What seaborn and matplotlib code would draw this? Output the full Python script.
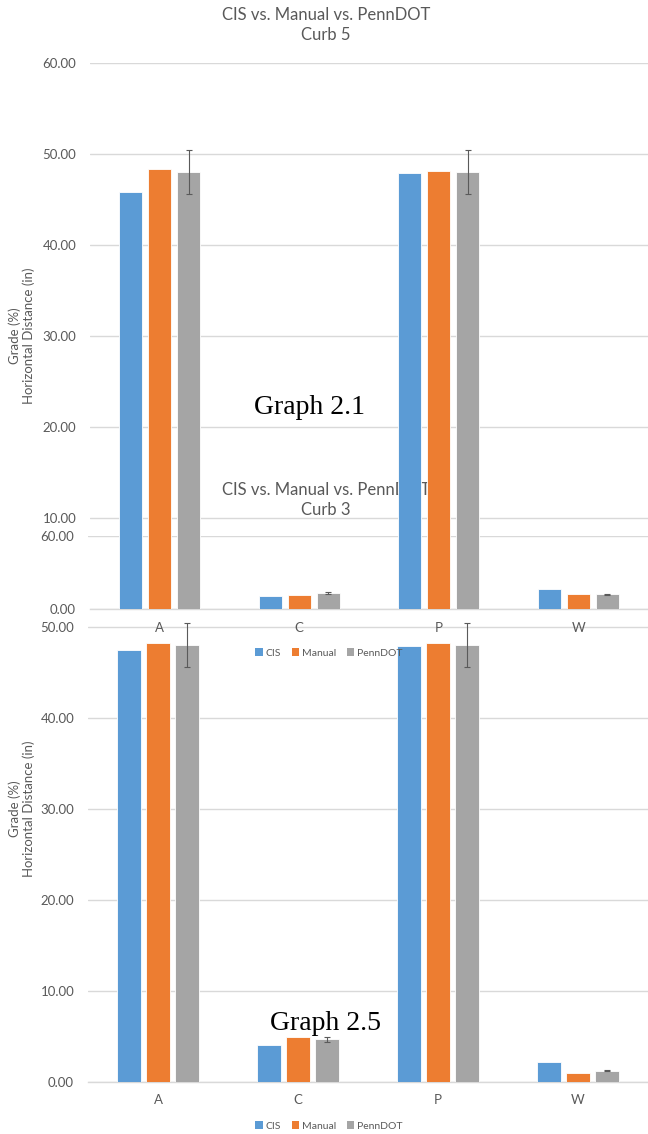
import matplotlib
matplotlib.use("Agg")
import matplotlib.pyplot as plt
import seaborn as sns
import pandas as pd
from matplotlib.patches import Patch

# ---------------- data ----------------
categories = ["A", "C", "P", "W"]
series = ["CIS", "Manual", "PennDOT"]

curb5_cis = [45.85, 1.45, 47.90, 2.25]
curb5_manual = [48.40, 1.55, 48.10, 1.65]
curb5_penndot = [48.00, 1.80, 48.00, 1.60]
curb5_penndot_err = [2.40, 0.12, 2.40, 0.10]

curb3_cis = [47.50, 4.05, 47.90, 2.25]
curb3_manual = [48.20, 5.00, 48.20, 0.95]
curb3_penndot = [48.05, 4.70, 48.05, 1.25]
curb3_penndot_err = [2.40, 0.25, 2.40, 0.08]

yticks = [0, 10, 20, 30, 40, 50, 60]
ytick_labels = ["0.00", "10.00", "20.00", "30.00", "40.00", "50.00", "60.00"]

title_line1 = "CIS vs. Manual vs. PennDOT"
title5 = "Curb 5"
title3 = "Curb 3"
ylabel = "Grade (%)\nHorizontal Distance (in)"

colors = ["#5B9BD5", "#ED7D31", "#A5A5A5"]
TXT = "#595959"
GRID = "#d9d9d9"

sns.set_theme(style="white")
plt.rcParams["font.family"] = ["Lato", "DejaVu Sans"]

W, H = 648, 1134
fig = plt.figure(figsize=(W / 100, H / 100), dpi=100)


def rect(l, t, r, b):
    return [l / W, 1 - b / H, (r - l) / W, (b - t) / H]


def draw(ax, cis, man, pen, err, sub, t1_y, t2_y, leg_y, axleft):
    df = pd.DataFrame({
        "cat": categories * 3,
        "series": [s for s in series for _ in categories],
        "val": list(cis) + list(man) + list(pen),
    })
    sns.barplot(data=df, x="cat", y="val", hue="series", order=categories,
                hue_order=series, palette=colors, saturation=1, width=0.62,
                gap=0.2, errorbar=None, legend=False, ax=ax, edgecolor="white",
                linewidth=0.6, zorder=3)
    pats = sorted(ax.patches, key=lambda p: p.get_x())
    pen_pats = pats[2::3]
    xs = [p.get_x() + p.get_width() / 2 for p in pen_pats]
    ax.errorbar(xs, pen, yerr=err, fmt="none", ecolor="#5a5a5a",
                elinewidth=0.8, capsize=2.5, capthick=0.8, zorder=4)
    ax.set_xlim(-0.5, 3.5)
    ax.set_ylim(0, 60)
    ax.set_yticks(yticks)
    ax.set_yticklabels(ytick_labels)
    ax.yaxis.grid(True, color=GRID, lw=1.0)
    ax.set_axisbelow(True)
    for s in ["top", "right", "left"]:
        ax.spines[s].set_visible(False)
    ax.spines["bottom"].set_color(GRID)
    ax.spines["bottom"].set_linewidth(1.0)
    ax.tick_params(axis="y", length=0, labelsize=9.5, labelcolor=TXT, pad=10)
    ax.tick_params(axis="x", length=0, labelsize=9.5, labelcolor=TXT, pad=9)
    ax.set_xlabel("")
    ax.set_ylabel(ylabel, fontsize=9.5, color=TXT, linespacing=1.15)
    ax.yaxis.set_label_coords((35 - axleft) / (W - axleft), 0.5)
    ax.text(326 / W, 1 - t1_y / H, title_line1, transform=fig.transFigure,
            ha="center", va="center", fontsize=12, color=TXT)
    ax.text(326 / W, 1 - t2_y / H, sub, transform=fig.transFigure,
            ha="center", va="center", fontsize=12, color=TXT)
    handles = [Patch(facecolor=c, edgecolor="none") for c in colors]
    ax.legend(handles, series, loc="center", ncol=3, frameon=False,
              bbox_to_anchor=(329 / W, 1 - leg_y / H),
              bbox_transform=fig.transFigure, fontsize=7.5,
              handlelength=0.7, handleheight=0.7, handletextpad=0.3,
              columnspacing=1.0, labelcolor=TXT)


ax_bot = fig.add_axes(rect(88, 536, 648, 1082))
ax_bot.set_zorder(1)
draw(ax_bot, curb3_cis, curb3_manual, curb3_penndot, curb3_penndot_err,
     title3, 490, 510, 1126, 88)

ax_top = fig.add_axes(rect(90, 63, 648, 609))
ax_top.set_zorder(2)
ax_top.patch.set_alpha(0)
draw(ax_top, curb5_cis, curb5_manual, curb5_penndot, curb5_penndot_err,
     title5, 15, 35, 653, 90)

fig.text(310 / W, 1 - 408 / H, "Graph 2.1", ha="center", va="center",
         fontsize=20, family="Liberation Serif", color="black", zorder=10)
fig.text(325 / W, 1 - 1023 / H, "Graph 2.5", ha="center", va="center",
         fontsize=20, family="Liberation Serif", color="black", zorder=10)

fig.savefig("out.png", dpi=100, facecolor="white")
